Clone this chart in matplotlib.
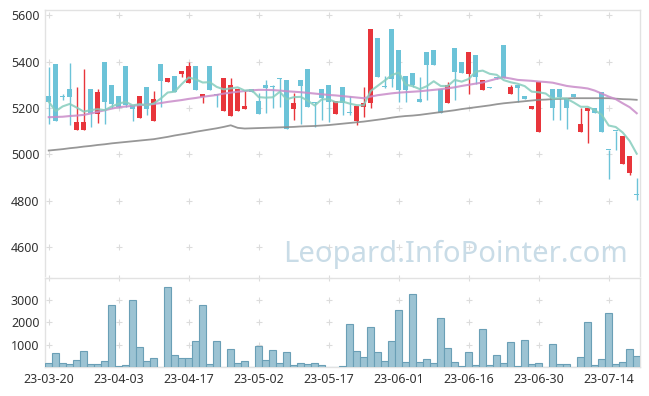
import numpy as np
import pandas as pd
import matplotlib
matplotlib.use('Agg')
import matplotlib.pyplot as plt

plt.rcParams['font.family'] = ['Noto Sans', 'DejaVu Sans']

# --- data (KRX trading days, 2023-03-20 .. 2023-07-20) ---
tick_labels = ['23-03-20', '23-04-03', '23-04-17', '23-05-02', '23-05-17',
               '23-06-01', '23-06-16', '23-06-30', '23-07-14']

opens = [5252, 5390, 5250, 5282, 5105, 5105, 5282, 5174, 5399, 5299,
         5252, 5381, 5213, 5158, 5291, 5145, 5390, 5311, 5338, 5348,
         5309, 5381, 5247, 5381, 5259, 5188, 5167, 5188, 5196, 5282,
         5230, 5299, 5291, 5329, 5321, 5197, 5321, 5368, 5223, 5280,
         5299, 5175, 5291, 5182, 5145, 5206, 5220, 5501, 5292, 5540,
         5450, 5338, 5352, 5239, 5443, 5450, 5283, 5220, 5458, 5400,
         5348, 5429, 5278, 5290, 5330, 5472, 5259, 5299, 5252, 5197,
         5097, None, 5280, 5280, 5241, 5260, 5097, 5188, 5198, 5270,
         5020, 5101, 4956, 4920, 4826]
highs = [5378, 5390, 5262, 5396, 5289, 5367, 5282, 5280, 5399, 5299,
         5252, 5381, 5213, 5252, 5291, 5273, 5390, 5328, 5338, 5360,
         5400, 5381, 5260, 5381, 5262, 5328, 5328, 5282, 5278, 5282,
         5266, 5321, 5299, 5330, 5321, 5266, 5321, 5368, 5225, 5280,
         5299, 5230, 5291, 5250, 5209, 5289, 5540, 5501, 5340, 5540,
         5450, 5338, 5352, 5335, 5443, 5450, 5283, 5314, 5458, 5400,
         5443, 5429, 5321, 5292, 5332, 5472, 5299, 5299, 5252, 5209,
         5314, None, 5280, 5280, 5241, 5260, 5198, 5198, 5198, 5270,
         5020, 5101, 5079, 4992, 4896]
lows = [5131, 5145, 5236, 5126, 5105, 5105, 5116, 5136, 5129, 5198,
        5200, 5203, 5145, 5158, 5170, 5145, 5206, 5311, 5267, 5335,
        5309, 5278, 5220, 5278, 5205, 5188, 5167, 5188, 5196, 5268,
        5175, 5178, 5200, 5206, 5108, 5148, 5131, 5203, 5119, 5148,
        5141, 5175, 5170, 5170, 5126, 5162, 5198, 5332, 5288, 5290,
        5227, 5227, 5292, 5227, 5235, 5386, 5176, 5220, 5236, 5350,
        5258, 5305, 5278, 5288, 5326, 5328, 5259, 5227, 5237, 5197,
        5097, None, 5148, 5148, 5109, 5249, 5097, 5050, 5177, 5097,
        4893, 5018, 4956, 4910, 4802]
closes = [5227, 5145, 5248, 5249, 5139, 5139, 5177, 5270, 5227, 5217,
          5203, 5213, 5196, 5252, 5196, 5239, 5318, 5328, 5270, 5360,
          5381, 5278, 5260, 5278, 5257, 5328, 5299, 5282, 5209, 5268,
          5175, 5288, 5289, 5327, 5108, 5220, 5296, 5206, 5221, 5242,
          5224, 5230, 5220, 5177, 5209, 5220, 5540, 5332, 5290, 5325,
          5278, 5278, 5299, 5227, 5386, 5386, 5176, 5299, 5357, 5350,
          5443, 5335, 5321, 5288, 5328, 5328, 5289, 5288, 5238, 5209,
          5314, None, 5198, 5249, 5198, 5249, 5131, 5198, 5177, 5097,
          5017, 5099, 5079, 4992, 4824]
volumes = [176, 617, 176, 132, 323, 705, 132, 132, 265, 2778,
           44, 88, 3000, 926, 265, 397, 0, 3572, 529, 397,
           397, 1190, 2778, 132, 1190, 0, 794, 176, 265, 0,
           970, 309, 750, 176, 662, 88, 176, 132, 176, 88,
           0, 0, 44, 1940, 720, 441, 1793, 662, 279, 1161,
           2558, 235, 3263, 235, 353, 176, 2205, 838, 235, 44,
           662, 88, 1720, 88, 529, 176, 1117, 44, 1235, 132,
           176, 0, 1058, 132, 132, 0, 441, 2029, 88, 353,
           2426, 132, 220, 794, 485]
ma20 = [5160, 5161, 5162, 5165, 5167, 5170, 5176, 5183, 5190, 5197,
        5203, 5206, 5209, 5212, 5214, 5217, 5221, 5226, 5230, 5234,
        5239, 5243, 5248, 5252, 5256, 5262, 5266, 5270, 5273, 5276,
        5278, 5278, 5277, 5275, 5272, 5270, 5268, 5265, 5262, 5259,
        5256, 5254, 5251, 5248, 5245, 5242, 5249, 5255, 5259, 5263,
        5266, 5268, 5270, 5272, 5275, 5278, 5281, 5285, 5289, 5295,
        5300, 5305, 5310, 5318, 5326, 5332, 5327, 5321, 5319, 5317,
        5314, 5312, 5309, 5302, 5295, 5291, 5288, 5284, 5275, 5262,
        5249, 5238, 5220, 5203, 5177]
ma60 = [5016, 5019, 5022, 5026, 5029, 5033, 5036, 5040, 5043, 5047,
        5050, 5053, 5056, 5059, 5062, 5065, 5070, 5075, 5081, 5086,
        5091, 5097, 5102, 5107, 5112, 5118, 5125, 5114, 5111, 5112,
        5113, 5114, 5115, 5116, 5117, 5118, 5120, 5121, 5122, 5124,
        5126, 5129, 5132, 5135, 5138, 5141, 5145, 5149, 5153, 5158,
        5162, 5165, 5167, 5170, 5174, 5178, 5182, 5186, 5190, 5195,
        5199, 5203, 5207, 5211, 5216, 5220, 5223, 5226, 5229, 5232,
        5235, 5236, 5238, 5239, 5241, 5242, 5242, 5242, 5242, 5242,
        5242, 5240, 5238, 5237, 5235]

df = pd.DataFrame({'open': opens, 'high': highs, 'low': lows,
                   'close': closes, 'volume': volumes,
                   'ma20': ma20, 'ma60': ma60}, dtype=float)
df['ma5'] = df['close'].rolling(5, min_periods=1).mean()
x = np.arange(len(df))

red = '#e8353b'
blue = '#6cc3d8'
edge = '#e2e2e2'

fig = plt.figure(figsize=(6.49, 3.96), dpi=100)
W, H = 649, 396
ax = fig.add_axes([45 / W, 1 - 276 / H, 595 / W, 266 / H])
axv = fig.add_axes([45 / W, 1 - 367.3 / H, 595 / W, 89.8 / H], sharex=ax)

# candles (red = up, blue = down)
c = df.dropna(subset=['open'])
up = c['close'] >= c['open']
colors = np.where(up, red, blue)
ax.vlines(c.index, c['low'], c['high'], colors=colors, linewidth=1, zorder=2)
body_lo = np.minimum(c['open'], c['close'])
body_h = np.maximum((c['close'] - c['open']).abs(), 4)
ax.bar(c.index, body_h, bottom=body_lo, width=0.72, color=colors,
       linewidth=0, zorder=3)

# moving averages
ax.plot(x, df['ma60'], color='#8c8c8c', lw=1.3, alpha=0.9, zorder=4)
ax.plot(x, df['ma20'], color='#c98cc9', lw=1.5, alpha=0.85, zorder=4)
ax.plot(x, df['ma5'], color='#86cdbd', lw=1.5, alpha=0.85, zorder=5)

# volume
axv.bar(x, df['volume'], width=1.0, color='#9cc3d3', edgecolor='#6a9fb6',
        linewidth=0.8, zorder=3)

# '+' grid marks
gx = np.arange(0, 85, 10)
for gy in range(4600, 5601, 200):
    ax.scatter(gx, [gy] * len(gx), marker='+', s=18, color='#dcdcdc',
               linewidths=0.8, zorder=1)
for gy in range(1000, 4001, 1000):
    axv.scatter(gx, [gy] * len(gx), marker='+', s=18, color='#dcdcdc',
                linewidths=0.8, zorder=1, clip_on=False)

ax.set_xlim(-0.53, 84.47)
ax.set_ylim(4474, 5623)
axv.set_ylim(0, 4000)

ax.set_yticks(range(4600, 5601, 200))
axv.set_yticks([1000, 2000, 3000])
axv.set_xticks(gx)
axv.set_xticklabels(tick_labels)
ax.tick_params(axis='x', labelbottom=False, length=0)

for a in (ax, axv):
    a.tick_params(length=0, labelsize=9, colors='#333333', pad=4)
    for s in a.spines.values():
        s.set_color(edge)
        s.set_linewidth(1)
ax.spines['bottom'].set_visible(False)

fig.text(628 / W, 1 - 262 / H, 'Leopard.InfoPointer.com', fontsize=21,
         color='#c9dce7', ha='right', va='baseline')

fig.savefig('out.png', dpi=100, facecolor='white')
